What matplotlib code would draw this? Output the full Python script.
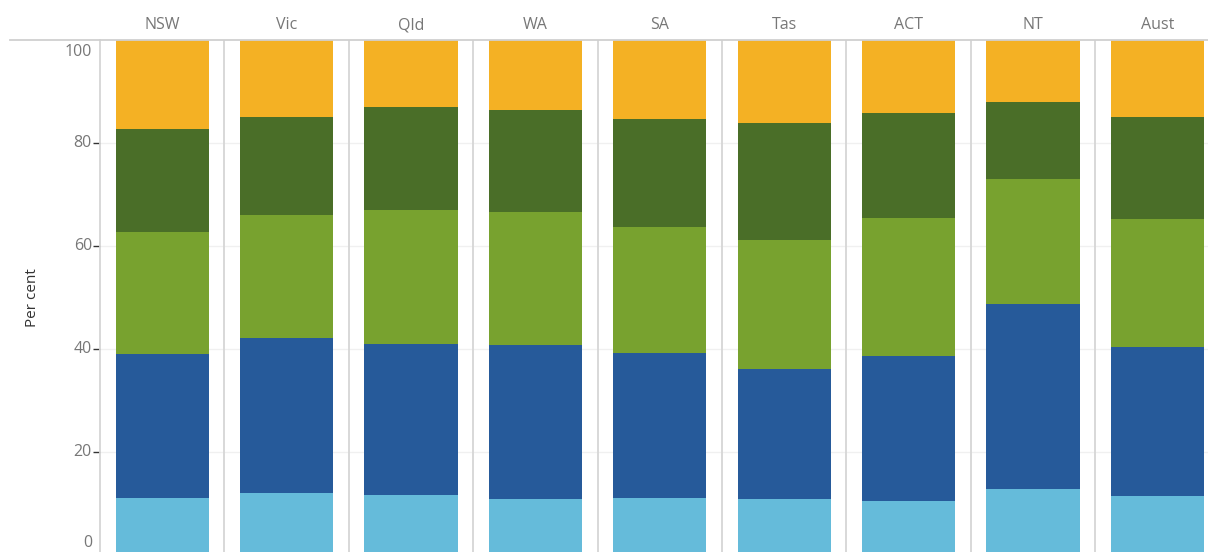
#!/usr/bin/env python3
"""Stacked share-by-state bars, one panel per state."""

import matplotlib
matplotlib.use("Agg")
import matplotlib.pyplot as plt
from matplotlib.lines import Line2D
import numpy as np

states = ["NSW", "Vic", "Qld", "WA", "SA", "Tas", "ACT", "NT", "Aust"]

# segment sizes (bottom to top)
light_blue = [11.1, 12.0, 11.7, 10.9, 11.1, 10.9, 10.5, 12.8, 11.5]
dark_blue = [27.9, 30.1, 29.3, 29.9, 28.1, 25.2, 28.1, 35.9, 28.9]
light_green = [23.7, 23.9, 26.0, 25.8, 24.5, 25.1, 26.8, 24.3, 24.8]
dark_green = [20.0, 19.0, 20.0, 19.8, 21.0, 22.7, 20.4, 15.0, 19.8]
orange = [17.3, 15.0, 13.0, 13.6, 15.3, 16.1, 14.2, 12.0, 15.0]
y_ticks = [0, 20, 40, 60, 80, 100]

series = [light_blue, dark_blue, light_green, dark_green, orange]
colors = ["#65BBDA", "#265A9A", "#78A22F", "#4A6E28", "#F4B124"]

W, H = 1208, 552
fig = plt.figure(figsize=(W / 100, H / 100), dpi=100)

panel_w = 124.4
x0, y_top, y_zero = 100, 40, 555
ax = fig.add_axes([x0 / W, (H - y_zero) / H,
                   panel_w * len(states) / W, (y_zero - y_top) / H])

x = np.arange(len(states))
bottom = np.zeros(len(states))
for vals, c in zip(series, colors):
    ax.bar(x, vals, width=0.748, bottom=bottom, color=c, zorder=2)
    bottom += np.array(vals)

ax.set_xlim(-0.5, len(states) - 0.5)
ax.set_ylim(0, 100)

for i in range(len(states) - 1):
    ax.axvline(i + 0.5, color="#d6d6d6", lw=1.3, zorder=1)
for v in y_ticks[1:-1]:
    ax.axhline(v, color="#f0f0f0", lw=1, zorder=0)

for s in ("top", "right", "bottom"):
    ax.spines[s].set_visible(False)
ax.spines["left"].set_color("#d6d6d6")
ax.spines["left"].set_linewidth(1.3)

ax.set_xticks([])
ax.set_yticks(y_ticks[1:-1])
ax.set_yticklabels([])
ax.tick_params(axis="y", length=5, width=1, color="#333333")

lab = dict(color="#777777", fontsize=11.5, family="Open Sans")
for v in y_ticks:
    yp = y_zero - v * (y_zero - y_top) / 100
    yp = min(max(yp, 52), 543)  # end labels sit inside the clipped range
    fig.text(92 / W, 1 - yp / H, str(v), ha="right", va="center", **lab)

for i, s in enumerate(states):
    fig.text((x0 + panel_w * (i + 0.5)) / W, 1 - 25 / H, s,
             ha="center", va="center", **lab)

fig.add_artist(Line2D([10 / W, 1], [1 - 39.5 / H] * 2, color="#d0d0d0", lw=1.3))

fig.text(33 / W, 1 - 298 / H, "Per cent", rotation=90, ha="center", va="center",
         color="#333333", fontsize=11, family="Open Sans")

fig.savefig("out.png", dpi=100)
